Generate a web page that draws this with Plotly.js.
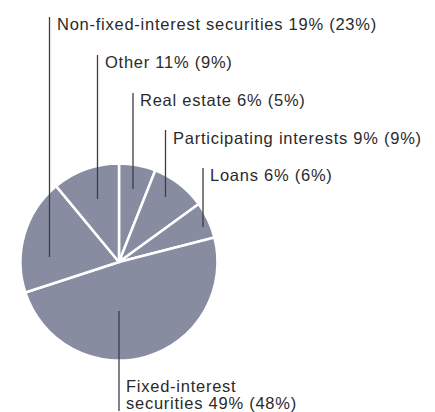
<!DOCTYPE html>
<html>
<head>
<meta charset="utf-8">
<script src="https://cdn.plot.ly/plotly-3.0.1.min.js"></script>
<style>
html,body{margin:0;padding:0;background:#fff;}
#chart{width:435px;height:412px;}
#chart .annotation-text{letter-spacing:0.75px;}
</style>
</head>
<body>
<div id="chart"></div>
<script>
// Data (clockwise from 12 o'clock)
const categories = ["Real estate", "Participating interests", "Loans", "Fixed-interest securities", "Non-fixed-interest securities", "Other"];
const shares = [6, 9, 6, 49, 19, 11];          // current year %
const priorShares = [5, 9, 6, 48, 23, 9];      // previous year % (in brackets)
const labelLines = [
  ["Real estate 6% (5%)"],
  ["Participating interests 9% (9%)"],
  ["Loans 6% (6%)"],
  ["Fixed-interest", "securities 49% (48%)"],
  ["Non-fixed-interest securities 19% (23%)"],
  ["Other 11% (9%)"]
];

// Layout helpers (pixel geometry of the leader lines)
const W = 435, H = 412;
const leaders = [
  {x: 133,   y1: 93,  y2: 189, ty: 100},
  {x: 165.5, y1: 130, y2: 197, ty: 137.5},
  {x: 203,   y1: 168, y2: 227, ty: 175},
  {x: 119,   y1: 311, y2: 411, ty: 385.5},
  {x: 49.5,  y1: 17,  y2: 257, ty: 24},
  {x: 97.5,  y1: 55,  y2: 199, ty: 62}
];
const lineGap = 17;
const px = v => v / W, py = v => 1 - v / H;

const shapes = leaders.map(l => ({
  type: 'line', xref: 'paper', yref: 'paper',
  x0: px(l.x), x1: px(l.x), y0: py(l.y1), y1: py(l.y2),
  line: {color: '#3c3c44', width: 1.3}
}));
const annotations = [];
leaders.forEach((l, i) => {
  labelLines[i].forEach((t, k) => {
    annotations.push({
      xref: 'paper', yref: 'paper', x: px(l.x + 5), y: py(l.ty + k * lineGap),
      xanchor: 'left', yanchor: 'middle', align: 'left', showarrow: false,
      text: t,
      font: {family: 'Liberation Sans, Arial, sans-serif', size: 16.5, color: '#2a2a2a'}
    });
  });
});

const cx = 119, cy = 262, r = 98.5;
const trace = {
  type: 'pie',
  labels: categories,
  values: shares,
  customdata: priorShares,
  sort: false,
  direction: 'clockwise',
  rotation: 0,
  textinfo: 'none',
  hoverinfo: 'skip',
  marker: {colors: categories.map(() => '#878ca1'), line: {color: '#ffffff', width: 2.5}},
  domain: {x: [px(cx - r), px(cx + r)], y: [py(cy + r), py(cy - r)]},
  showlegend: false
};

Plotly.newPlot('chart', [trace], {
  width: W, height: H,
  margin: {l: 0, r: 0, t: 0, b: 0},
  paper_bgcolor: '#ffffff',
  showlegend: false,
  shapes: shapes,
  annotations: annotations
}, {staticPlot: true, displayModeBar: false});
</script>
</body>
</html>
